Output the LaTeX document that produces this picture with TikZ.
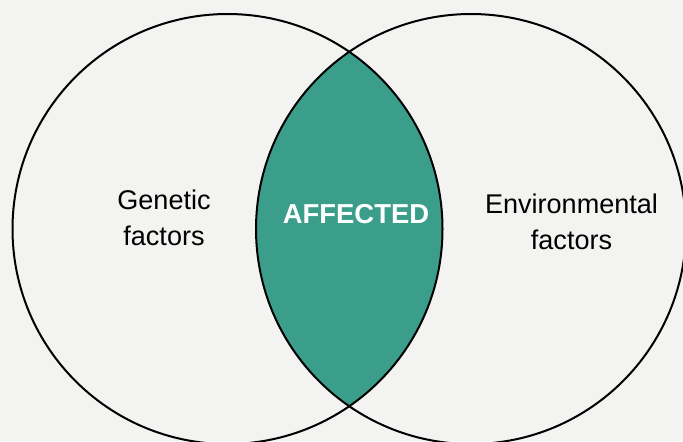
\documentclass[tikz,border=0pt]{standalone}
\usepackage{fontspec}
\setmainfont{Liberation Sans}
\usepackage{tikz}
\usetikzlibrary{backgrounds}
\definecolor{paper}{RGB}{243,243,241}
\definecolor{overlap}{RGB}{58,158,139}
\newcommand{\lenscolor}{overlap}
\newcommand{\thickness}{0.4mm}
\newcommand{\rad}{4.30}

\begin{document}
\begin{tikzpicture}
\useasboundingbox (0,0) rectangle (13.66,-8.82);
\fill[paper] (0,0) rectangle (13.66,-8.82);
\coordinate (g) at (4.55, -4.58);
\coordinate (e) at (9.42, -4.58);
%overlap
\begin{scope}
\clip (g) circle (\rad);
\fill[\lenscolor] (e) circle (\rad);
\end{scope}
\draw[line width = \thickness] (g) circle (\rad);
\draw[line width = \thickness] (e) circle (\rad);
%labels
\node[align=center, font=\fontsize{15.4}{20.5}\selectfont] (gen) at (3.28, -4.35) {Genetic\\factors};
\node[align=center, font=\fontsize{15.4}{20.5}\selectfont] (env) at (11.43, -4.44) {Environmental\\factors};
\node[white, font=\fontsize{15.6}{20.5}\selectfont\bfseries] (aff) at (7.12, -4.28) {AFFECTED};
\end{tikzpicture}
\end{document}
